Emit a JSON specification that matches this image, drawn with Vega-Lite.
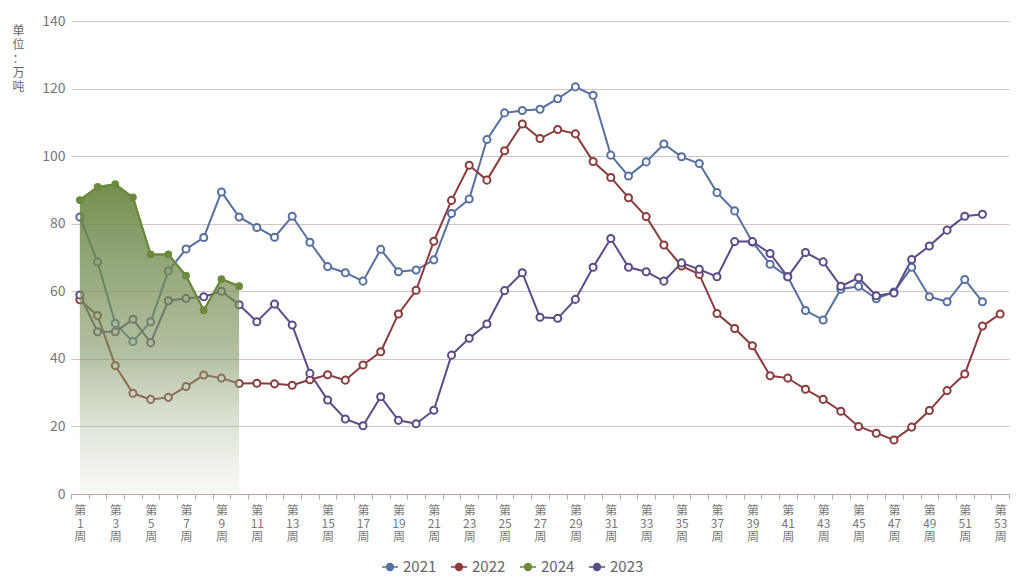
{
  "$schema": "https://vega.github.io/schema/vega-lite/v6.json",
  "width": 938,
  "height": 473,
  "autosize": {"type": "none"},
  "padding": {"left": 71, "top": 21, "right": 9, "bottom": 84},
  "background": "white",
  "config": {
    "font": "Noto Sans CJK SC",
    "view": {"stroke": null}
  },
  "data": {
    "values": [
      {"week": 1, "2021": 82.0, "2022": 57.5, "2023": 58.9, "2024": 87.0},
      {"week": 2, "2021": 68.7, "2022": 52.8, "2023": 48.0, "2024": 90.9},
      {"week": 3, "2021": 50.5, "2022": 38.0, "2023": 48.0, "2024": 91.7},
      {"week": 4, "2021": 45.1, "2022": 29.8, "2023": 51.7, "2024": 87.8},
      {"week": 5, "2021": 51.0, "2022": 28.0, "2023": 44.8, "2024": 70.9},
      {"week": 6, "2021": 66.0, "2022": 28.6, "2023": 57.2, "2024": 70.9},
      {"week": 7, "2021": 72.5, "2022": 31.8, "2023": 57.9, "2024": 64.6},
      {"week": 8, "2021": 75.9, "2022": 35.2, "2023": 58.4, "2024": 54.4},
      {"week": 9, "2021": 89.4, "2022": 34.3, "2023": 60.0, "2024": 63.6},
      {"week": 10, "2021": 82.0, "2022": 32.7, "2023": 56.0, "2024": 61.5},
      {"week": 11, "2021": 78.9, "2022": 32.8, "2023": 51.0},
      {"week": 12, "2021": 76.0, "2022": 32.6, "2023": 56.2},
      {"week": 13, "2021": 82.2, "2022": 32.2, "2023": 50.0},
      {"week": 14, "2021": 74.5, "2022": 33.8, "2023": 35.7},
      {"week": 15, "2021": 67.3, "2022": 35.3, "2023": 27.8},
      {"week": 16, "2021": 65.5, "2022": 33.7, "2023": 22.2},
      {"week": 17, "2021": 63.0, "2022": 38.2, "2023": 20.2},
      {"week": 18, "2021": 72.4, "2022": 42.1, "2023": 28.8},
      {"week": 19, "2021": 65.8, "2022": 53.3, "2023": 21.8},
      {"week": 20, "2021": 66.3, "2022": 60.3, "2023": 20.8},
      {"week": 21, "2021": 69.3, "2022": 74.8, "2023": 24.8},
      {"week": 22, "2021": 83.0, "2022": 86.9, "2023": 41.1},
      {"week": 23, "2021": 87.3, "2022": 97.3, "2023": 46.1},
      {"week": 24, "2021": 104.9, "2022": 92.9, "2023": 50.3},
      {"week": 25, "2021": 112.8, "2022": 101.6, "2023": 60.2},
      {"week": 26, "2021": 113.5, "2022": 109.5, "2023": 65.5},
      {"week": 27, "2021": 113.9, "2022": 105.2, "2023": 52.3},
      {"week": 28, "2021": 117.0, "2022": 107.9, "2023": 52.0},
      {"week": 29, "2021": 120.5, "2022": 106.6, "2023": 57.6},
      {"week": 30, "2021": 118.0, "2022": 98.4, "2023": 67.1},
      {"week": 31, "2021": 100.3, "2022": 93.7, "2023": 75.6},
      {"week": 32, "2021": 94.1, "2022": 87.7, "2023": 67.1},
      {"week": 33, "2021": 98.3, "2022": 82.1, "2023": 65.8},
      {"week": 34, "2021": 103.6, "2022": 73.7, "2023": 63.0},
      {"week": 35, "2021": 99.8, "2022": 67.5, "2023": 68.4},
      {"week": 36, "2021": 97.8, "2022": 65.0, "2023": 66.5},
      {"week": 37, "2021": 89.2, "2022": 53.4, "2023": 64.3},
      {"week": 38, "2021": 83.8, "2022": 49.0, "2023": 74.7},
      {"week": 39, "2021": 74.6, "2022": 43.9, "2023": 74.7},
      {"week": 40, "2021": 68.0, "2022": 35.0, "2023": 71.2},
      {"week": 41, "2021": 64.3, "2022": 34.3, "2023": 64.3},
      {"week": 42, "2021": 54.3, "2022": 31.0, "2023": 71.5},
      {"week": 43, "2021": 51.5, "2022": 28.0, "2023": 68.7},
      {"week": 44, "2021": 60.6, "2022": 24.5, "2023": 61.5},
      {"week": 45, "2021": 61.5, "2022": 20.0, "2023": 64.0},
      {"week": 46, "2021": 57.8, "2022": 18.0, "2023": 58.7},
      {"week": 47, "2021": 59.8, "2022": 16.0, "2023": 59.5},
      {"week": 48, "2021": 67.1, "2022": 19.8, "2023": 69.4},
      {"week": 49, "2021": 58.4, "2022": 24.7, "2023": 73.4},
      {"week": 50, "2021": 56.9, "2022": 30.6, "2023": 78.1},
      {"week": 51, "2021": 63.5, "2022": 35.5, "2023": 82.2},
      {"week": 52, "2021": 56.9, "2022": 49.7, "2023": 82.8},
      {"week": 53, "2022": 53.3}
    ]
  },
  "transform": [
    {"fold": ["2021", "2022", "2024", "2023"], "as": ["year", "value"]},
    {"filter": "isValid(datum.value)"}
  ],
  "encoding": {
    "x": {
      "field": "week",
      "type": "ordinal",
      "sort": "ascending",
      "scale": {"type": "band", "paddingInner": 0, "paddingOuter": 0},
      "axis": {
        "title": null,
        "grid": false,
        "domainColor": "#bfa3a3",
        "tickColor": "#bfa3a3",
        "tickBand": "extent",
        "tickSize": 5,
        "labelAngle": 0,
        "labelAlign": "center",
        "labelBaseline": "top",
        "labelPadding": 6,
        "labelFontSize": 12,
        "labelLineHeight": 13,
        "labelColor": "#777777",
        "labelOverlap": false,
        "labelExpr": "datum.value % 2 == 1 ? ['第', '' + datum.value, '周'] : ''"
      }
    },
    "y": {
      "field": "value",
      "type": "quantitative",
      "scale": {"domain": [0, 140]},
      "axis": {
        "values": [0, 20, 40, 60, 80, 100, 120, 140],
        "grid": true,
        "gridColor": "#d6c2c2",
        "domain": false,
        "ticks": false,
        "labelColor": "#777777",
        "labelFontSize": 14,
        "labelPadding": 6,
        "title": ["单", "位", "：", "万", "吨"],
        "titleAngle": 0,
        "titleX": -53,
        "titleY": 4,
        "titleAlign": "center",
        "titleBaseline": "top",
        "titleFontSize": 12,
        "titleFontWeight": "normal",
        "titleColor": "#666666",
        "titleLineHeight": 14
      }
    }
  },
  "layer": [
    {
      "mark": {"type": "line", "strokeWidth": 2},
      "encoding": {
        "color": {
          "field": "year",
          "type": "nominal",
          "scale": {
            "domain": ["2021", "2022", "2024", "2023"],
            "range": ["#56709f", "#8a3b3b", "#6b8a3c", "#5c4b87"]
          },
          "legend": {
            "title": null,
            "orient": "none",
            "direction": "horizontal",
            "legendX": 310,
            "legendY": 537,
            "symbolType": "M-1,0H-0.42M0.42,0H1M0.42,0A0.42,0.42 0 1,1 -0.42,0A0.42,0.42 0 1,1 0.42,0",
            "symbolSize": 260,
            "symbolStrokeWidth": 1.6,
            "symbolFillColor": "#ffffff",
            "labelFontSize": 15,
            "labelColor": "#666666",
            "columnPadding": 10
          }
        }
      }
    },
    {
      "transform": [{"filter": "datum.year != '2024'"}],
      "mark": {"type": "point", "shape": "circle", "filled": false, "fill": "#ffffff", "fillOpacity": 1, "opacity": 1, "size": 50, "strokeWidth": 2},
      "encoding": {
        "color": {"field": "year", "type": "nominal", "legend": null}
      }
    },
    {
      "transform": [{"filter": "datum.year == '2024'"}],
      "mark": {
        "type": "area",
        "color": {
          "gradient": "linear",
          "x1": 0, "y1": 0, "x2": 0, "y2": 1,
          "stops": [
            {"offset": 0, "color": "rgba(98,126,56,0.88)"},
            {"offset": 0.55, "color": "rgba(128,150,100,0.6)"},
            {"offset": 1, "color": "rgba(190,205,175,0.12)"}
          ]
        }
      }
    },
    {
      "transform": [{"filter": "datum.year == '2024'"}],
      "mark": {"type": "line", "strokeWidth": 2, "color": "#6b8a3c"}
    },
    {
      "transform": [{"filter": "datum.year == '2024'"}],
      "mark": {"type": "point", "shape": "circle", "filled": true, "opacity": 1, "size": 60},
      "encoding": {
        "color": {"field": "year", "type": "nominal", "legend": null}
      }
    }
  ]
}
